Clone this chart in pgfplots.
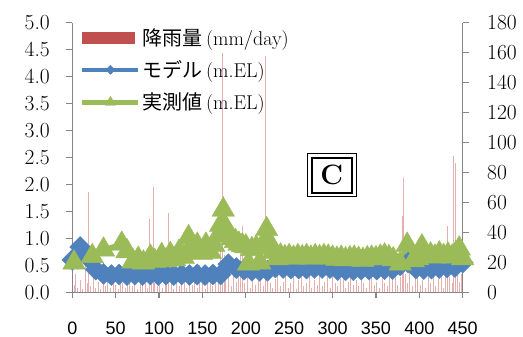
\documentclass[border=0pt]{standalone}
\usepackage{fontspec}
\usepackage{pgfplots}
\pgfplotsset{compat=1.18}
\newfontfamily\cjk{Noto Sans CJK JP}
\newfontfamily\arial{Liberation Sans}
\definecolor{rainred}{HTML}{C0504D}
\definecolor{modelblue}{HTML}{4F81BD}
\definecolor{measgreen}{HTML}{9BBB59}
\definecolor{axgray}{HTML}{868686}
\begin{document}
\begin{tikzpicture}
\begin{axis}[
  at={(72.3pt,44.7pt)}, anchor=south west,
  scale only axis, width=390.4pt, height=269.6pt,
  xmin=0, xmax=450, ymin=0, ymax=180,
  axis x line=none, axis y line*=right,
  ytick={0,20,40,60,80,100,120,140,160,180},
  tick align=outside, major tick length=6pt,
  axis line style={axgray, line width=1.2pt},
  tick style={axgray, line width=1.2pt},
  /pgf/number format/assume math mode=true,
  yticklabel style={font=\rmfamily\fontsize{21.5}{21.5}\selectfont, xshift=15pt},
]
\addplot[ycomb, draw=rainred, draw opacity=0.45, line width=0.9pt, mark=none] coordinates {
(2,5) (4,12) (6,3) (9,8) (12,2) (15,20) (17,6) (19,67) (21,4) (24,10) (27,3) (30,7) (33,2) (36,15) (38,4) (41,9) (44,3) (47,12) (50,5) (53,2) (55,18) (58,6) (61,3) (64,9) (66,25) (69,4) (72,7) (75,2) (78,11) (81,5) (84,14) (87,3) (89,49) (91,8) (93,70) (95,6) (98,4) (101,12) (104,3) (107,9) (109,22) (111,53) (114,6) (117,2) (120,10) (123,4) (126,7) (129,15) (132,3) (135,8) (138,5) (141,12) (144,3) (147,18) (150,6) (153,2) (156,9) (159,14) (162,4) (165,7) (168,11) (171,30) (173,160) (175,25) (177,8) (180,12) (183,4) (186,20) (189,7) (192,15) (194,30) (196,44) (199,6) (202,10) (205,3) (208,14) (211,5) (214,8) (217,22) (220,4) (223,158) (225,12) (228,6) (231,3) (234,9) (237,15) (240,4) (243,7) (246,12) (249,3) (252,6) (255,10) (258,2) (261,8) (264,13) (267,4) (270,6) (273,11) (276,3) (279,8) (282,5) (285,14) (288,4) (291,7) (294,10) (297,3) (300,18) (303,6) (306,4) (309,9) (312,12) (315,3) (318,7) (321,16) (324,5) (327,8) (330,4) (333,11) (336,6) (339,3) (342,9) (345,14) (348,5) (351,7) (354,3) (357,10) (360,6) (363,4) (366,12) (369,8) (372,15) (375,5) (378,10) (380,51) (382,76) (384,12) (386,6) (389,18) (392,4) (395,9) (398,14) (401,5) (404,8) (407,3) (410,11) (413,6) (416,16) (419,4) (422,9) (425,12) (428,3) (430,20) (432,44) (435,10) (438,6) (439.5,91) (442,86) (444,15) (446,7) (449,12)
};
\end{axis}
\begin{axis}[
  at={(72.3pt,44.7pt)}, anchor=south west,
  scale only axis, width=390.4pt, height=269.6pt,
  xmin=0, xmax=450, ymin=0, ymax=5,
  axis x line*=bottom, axis y line*=left,
  xtick={0,50,100,150,200,250,300,350,400,450},
  xticklabels={0,50,100,150,200,250,300,350,400,450},
  ytick={0,0.5,1,1.5,2,2.5,3,3.5,4,4.5,5},
  /pgf/number format/assume math mode=true,
  yticklabel style={/pgf/number format/.cd, fixed, fixed zerofill, precision=1, /tikz/.cd, font=\rmfamily\fontsize{21.5}{21.5}\selectfont, xshift=-13pt},
  xticklabel style={font=\fontsize{18}{18}\arial, yshift=-20pt},
  tick align=outside, major tick length=6pt,
  axis line style={axgray, line width=1.2pt},
  tick style={axgray, line width=1.2pt},
  clip=false,
  legend style={at={(0.012,0.995)}, anchor=north west, draw=none, fill=none,
    font=\fontsize{20}{20}\selectfont, row sep=10pt},
  legend cell align=left,
]
\addlegendimage{legend image code/.code={\fill[rainred] (0pt,-5.5pt) rectangle (52pt,5.5pt);}}
\addlegendentry{{\cjk 降雨量}\,(mm/day)}
\addlegendimage{modelblue, line width=4.5pt, mark=diamond*, mark size=4.5pt, mark options={xscale=1.33, line width=0.4pt},
  legend image code/.code={\draw[mark repeat=2,mark phase=2] plot coordinates {(0pt,0pt) (28pt,0pt) (56pt,0pt)};}}
\addlegendentry{{\cjk モデル}\,(m.EL)}
\addlegendimage{measgreen, line width=4.5pt, mark=triangle*, mark size=6pt, mark options={line width=0.4pt},
  legend image code/.code={\draw[mark repeat=2,mark phase=2] plot coordinates {(0pt,0pt) (28pt,0pt) (56pt,0pt)};}}
\addlegendentry{{\cjk 実測値}\,(m.EL)}
\addplot[forget plot, modelblue, line width=4.5pt, mark=diamond*, mark size=10.5pt, mark options={xscale=1.33, line width=0.4pt}] coordinates {
(0,0.60) (9,0.84) (18,0.64) (27,0.42) (36,0.34) (45,0.32) (54,0.33) (63,0.32) (72,0.33) (81,0.32) (90,0.33) (99,0.32) (108,0.33) (117,0.32) (126,0.33) (135,0.32) (144,0.33) (153,0.32) (162,0.33) (171,0.33) (180,0.52) (189,0.45) (198,0.42) (207,0.40) (216,0.40) (225,0.40) (234,0.46) (243,0.45) (252,0.44) (261,0.44) (270,0.44) (279,0.45) (288,0.45) (297,0.45) (306,0.41) (315,0.41) (324,0.41) (333,0.42) (342,0.42) (351,0.42) (360,0.43) (369,0.43) (378,0.50) (387,0.55) (396,0.44) (405,0.43) (414,0.44) (423,0.45) (432,0.46) (441,0.47) (450,0.55)
};
\addplot[forget plot, measgreen, line width=4.5pt, mark=triangle*, mark size=13pt, mark options={line width=0.4pt}] coordinates {
(2,0.55) (23,0.67) (36,0.79) (57,0.90) (63,0.76) (70,0.57) (76,0.62) (82,0.55) (90,0.66) (95,0.58) (103,0.69) (108,0.59) (113,0.71) (118,0.61) (123,0.75) (128,0.65) (134,1.02) (139,0.75) (144,0.88) (149,0.73) (154,0.88) (159,0.75) (163,0.88) (168,1.05) (171,1.25) (174,1.53) (177,1.20) (180,1.05) (184,1.00) (188,0.95) (192,0.90) (196,0.87) (200,0.85) (203,0.53) (207,0.80) (212,0.83) (216,0.55) (220,0.90) (224,1.17) (228,0.90) (232,0.75) (236,0.63) (240,0.68) (245,0.65) (250,0.67) (255,0.64) (260,0.67) (265,0.65) (270,0.67) (275,0.64) (280,0.67) (285,0.65) (290,0.67) (295,0.66) (300,0.64) (305,0.62) (310,0.64) (315,0.61) (320,0.63) (325,0.64) (330,0.62) (335,0.60) (340,0.63) (345,0.64) (350,0.63) (355,0.66) (360,0.68) (365,0.65) (370,0.61) (378,0.53) (386,0.88) (393,0.59) (398,0.63) (403,0.85) (408,0.67) (413,0.70) (418,0.66) (423,0.72) (428,0.67) (433,0.70) (438,0.66) (442,0.72) (446,0.81) (450,0.63)
};
\node[draw=black, line width=1pt, fill=white, minimum width=48.7pt, minimum height=43.3pt] at (axis cs:299,2.17) {};
\node[draw=black, line width=2pt, minimum width=40pt, minimum height=35pt, font=\bfseries\fontsize{28}{28}\selectfont] at (axis cs:299,2.17) {C};
\end{axis}
\pgfresetboundingbox
\useasboundingbox (0,0) rectangle (523pt,337pt);
\end{tikzpicture}
\end{document}
